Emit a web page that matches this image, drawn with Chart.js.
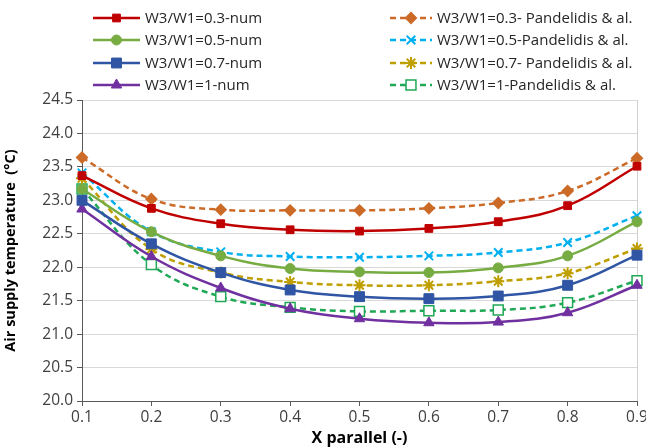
<!DOCTYPE html>
<html lang="en">
<head>
    <meta charset="UTF-8">
    <title>Air supply temperature vs X parallel</title>
    <script src="https://cdn.jsdelivr.net/npm/chart.js"></script>
    <style>
        html, body { margin: 0; padding: 0; background: #fff; }
        .chart-wrapper { width: 646px; height: 448px; position: relative; }
    </style>
</head>
<body>
    <div class="chart-wrapper">
        <canvas id="tempChart"></canvas>
    </div>

    <script>
        // values
        const xLabels = ['0.1', '0.2', '0.3', '0.4', '0.5', '0.6', '0.7', '0.8', '0.9'];

        const num03 = [23.37, 22.88, 22.65, 22.56, 22.54, 22.58, 22.68, 22.92, 23.51];
        const num05 = [23.17, 22.53, 22.17, 21.98, 21.93, 21.92, 21.99, 22.17, 22.68];
        const num07 = [23.00, 22.35, 21.92, 21.66, 21.56, 21.53, 21.57, 21.73, 22.18];
        const num1  = [22.87, 22.16, 21.69, 21.38, 21.23, 21.17, 21.18, 21.32, 21.73];

        const pan03 = [23.64, 23.02, 22.86, 22.85, 22.85, 22.88, 22.96, 23.14, 23.63];
        const pan05 = [23.41, 22.53, 22.23, 22.16, 22.15, 22.17, 22.22, 22.37, 22.77];
        const pan07 = [23.33, 22.27, 21.92, 21.78, 21.73, 21.73, 21.79, 21.91, 22.28];
        const pan1  = [23.17, 22.04, 21.56, 21.40, 21.34, 21.35, 21.36, 21.47, 21.80];

        const FONT = "'Open Sans', 'Liberation Sans', sans-serif";

        function numSeries(label, data, color, style, radius) {
            return {
                label: label,
                data: data,
                borderColor: color,
                backgroundColor: color,
                borderWidth: 2.5,
                tension: 0.4,
                pointStyle: style,
                pointRadius: radius,
                pointBorderWidth: 1,
                pointBackgroundColor: color,
                pointBorderColor: color
            };
        }

        function panSeries(label, data, color, style, radius, hollow) {
            return {
                label: label,
                data: data,
                borderColor: color,
                backgroundColor: color,
                borderWidth: 2.5,
                borderDash: [6, 4],
                tension: 0.4,
                pointStyle: style,
                pointRadius: radius,
                pointBorderWidth: hollow ? 1.5 : 2,
                pointBackgroundColor: hollow ? '#ffffff' : color,
                pointBorderColor: color
            };
        }

        const datasets = [
            numSeries('W3/W1=0.3-num', num03, '#C00000', 'rect', 5.5),
            numSeries('W3/W1=0.5-num', num05, '#77AC43', 'circle', 5),
            numSeries('W3/W1=0.7-num', num07, '#2F55A4', 'rect', 7),
            numSeries('W3/W1=1-num', num1, '#7030A0', 'triangle', 6),
            panSeries('W3/W1=0.3- Pandelidis & al.', pan03, '#CC6A28', 'rectRot', 5, false),
            panSeries('W3/W1=0.5-Pandelidis & al.', pan05, '#00B0F0', 'crossRot', 6, false),
            panSeries('W3/W1=0.7- Pandelidis & al.', pan07, '#BF9F00', 'star', 6, false),
            panSeries('W3/W1=1-Pandelidis & al.', pan1, '#1FA855', 'rect', 7, true)
        ];

        // two column legend at the top, like the original
        const legendRows = [18, 40, 63, 85];
        const legendCols = [
            { x0: 93, x1: 140, text: 145 },
            { x0: 390, x1: 432, text: 437 }
        ];

        const sideLegend = {
            id: 'sideLegend',
            afterDraw(chart) {
                const ctx = chart.ctx;
                chart.data.datasets.forEach((ds, i) => {
                    const col = legendCols[i < 4 ? 0 : 1];
                    const y = legendRows[i % 4];
                    ctx.save();
                    ctx.strokeStyle = ds.borderColor;
                    ctx.lineWidth = ds.borderWidth;
                    ctx.setLineDash(ds.borderDash || []);
                    ctx.beginPath();
                    ctx.moveTo(col.x0, y);
                    ctx.lineTo(col.x1, y);
                    ctx.stroke();
                    ctx.setLineDash([]);
                    ctx.fillStyle = ds.pointBackgroundColor;
                    ctx.strokeStyle = ds.pointBorderColor;
                    ctx.lineWidth = ds.pointBorderWidth;
                    Chart.helpers.drawPoint(ctx, {
                        pointStyle: ds.pointStyle,
                        radius: ds.pointRadius,
                        rotation: 0,
                        borderWidth: ds.pointBorderWidth
                    }, (col.x0 + col.x1) / 2, y);
                    ctx.fillStyle = '#262626';
                    ctx.font = '15px ' + FONT;
                    ctx.textBaseline = 'middle';
                    ctx.textAlign = 'left';
                    ctx.fillText(ds.label, col.text, y + 1);
                    ctx.restore();
                });
            }
        };

        const ctx = document.getElementById('tempChart').getContext('2d');
        new Chart(ctx, {
            type: 'line',
            data: {
                labels: xLabels,
                datasets: datasets
            },
            plugins: [sideLegend],
            options: {
                responsive: true,
                maintainAspectRatio: false,
                animation: false,
                layout: {
                    padding: { top: 100, right: 0, left: 0, bottom: 0 }
                },
                plugins: {
                    legend: { display: false },
                    tooltip: { enabled: false }
                },
                scales: {
                    x: {
                        type: 'category',
                        offset: false,
                        afterFit: (axis) => {
                            axis.height = 47;
                            axis.paddingRight = 9;
                        },
                        grid: {
                            drawOnChartArea: true,
                            drawTicks: true,
                            tickLength: 5,
                            tickColor: '#595959',
                            color: (c) => c.index === xLabels.length - 1 ? '#d0d0d0' : 'rgba(0,0,0,0)'
                        },
                        border: { color: '#595959', width: 1 },
                        ticks: {
                            color: '#404040',
                            font: { family: FONT, size: 15.5 },
                            maxRotation: 0,
                            padding: 2
                        },
                        title: {
                            display: true,
                            text: 'X parallel (-)',
                            color: '#000',
                            font: { family: FONT, size: 16, weight: 'bold' },
                            padding: { top: 0, bottom: 0 }
                        }
                    },
                    y: {
                        min: 20,
                        max: 24.5,
                        afterFit: (axis) => { axis.width = 82; },
                        grid: {
                            color: '#d9d9d9',
                            tickColor: '#595959',
                            tickLength: 5
                        },
                        border: { color: '#595959', width: 1 },
                        ticks: {
                            stepSize: 0.5,
                            color: '#404040',
                            font: { family: FONT, size: 15.5 },
                            padding: 4,
                            callback: (v) => Number(v).toFixed(1)
                        },
                        title: {
                            display: true,
                            text: 'Air supply temperature  (°C)',
                            color: '#000',
                            font: { family: FONT, size: 14.5, weight: 'bold' },
                            padding: { top: 2, bottom: 2 }
                        }
                    }
                }
            }
        });
    </script>
</body>
</html>
